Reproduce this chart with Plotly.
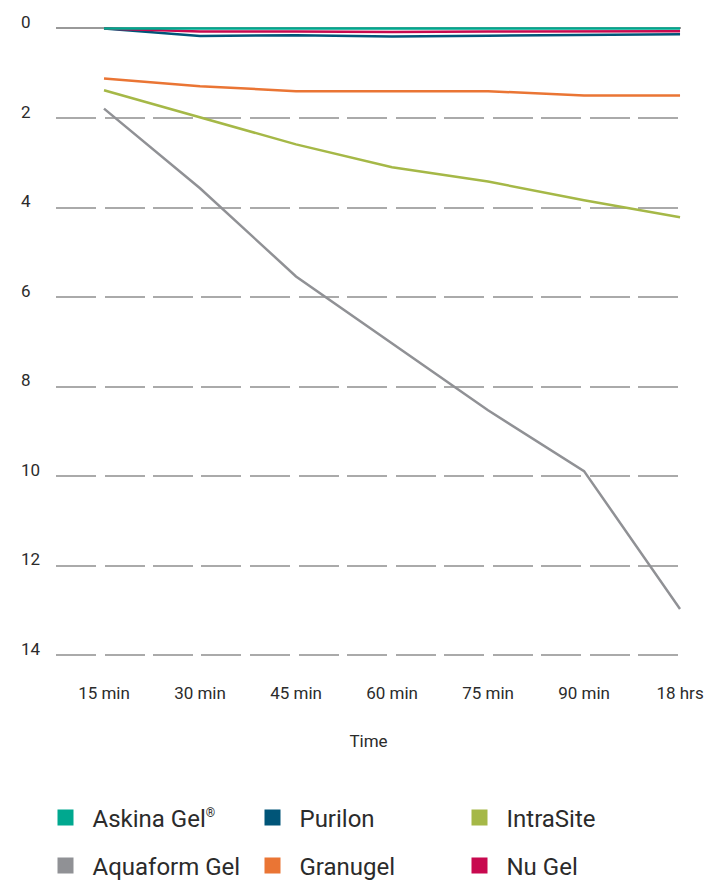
import plotly.graph_objects as go

times = ["15 min", "30 min", "45 min", "60 min", "75 min", "90 min", "18 hrs"]

askina_gel = [0, 0, 0, 0, 0, 0, 0]
purilon = [0, 0.17, 0.15, 0.18, 0.16, 0.14, 0.13]
intrasite = [1.38, 1.99, 2.59, 3.10, 3.42, 3.84, 4.22]
aquaform_gel = [1.79, 3.57, 5.54, 7.03, 8.53, 9.89, 12.97]
granugel = [1.12, 1.29, 1.40, 1.40, 1.40, 1.50, 1.50]
nu_gel = [0, 0.07, 0.07, 0.08, 0.07, 0.07, 0.06]

y_ticks = [0, 2, 4, 6, 8, 10, 12, 14]
y_ticktext = ["0\u2007", "2\u2007", "4\u2007", "6\u2007", "8\u2007", "10", "12", "14"]

names = ["Askina Gel<sup><span style='font-size:12px'>®</span></sup>", "Purilon", "IntraSite",
         "Aquaform Gel", "Granugel", "Nu Gel"]
colors = ["#00a88f", "#005578", "#a5b847", "#909195", "#ea7534", "#c8094f"]
series = [askina_gel, purilon, intrasite, aquaform_gel, granugel, nu_gel]

FONT = "Roboto, Lato, sans-serif"
TXT = "#2b2b2b"

# page body adds an 8px offset; figure is sized so content lands on the 724x880 frame
OFF = 8
W, H = 724 - OFF, 880 - OFF

fig = go.Figure()

# draw order: bottom to top
draw_order = [3, 2, 4, 1, 5, 0]
for i in draw_order:
    fig.add_trace(go.Scatter(
        x=times, y=series[i], mode="lines", name=names[i],
        line=dict(color=colors[i], width=2.5), showlegend=False,
        hoverinfo="skip"))

# legend entries (squares)
for i in range(6):
    fig.add_trace(go.Scatter(
        x=[None], y=[None], mode="markers", name=names[i],
        marker=dict(symbol="square", size=19, color=colors[i]),
        showlegend=True, legend="legend" if i < 3 else "legend2"))

leg_common = dict(
    orientation="h", xanchor="left", yanchor="middle",
    xref="container", yref="container",
    itemwidth=44,
    entrywidth=148, entrywidthmode="pixels",
    font=dict(family=FONT, size=24, color=TXT),
    bgcolor="rgba(0,0,0,0)", borderwidth=0, itemclick=False,
)

fig.update_layout(
    width=W, height=H,
    margin=dict(l=56 - OFF, r=43, t=24 - OFF, b=216, autoexpand=False),
    plot_bgcolor="white", paper_bgcolor="white",
    font=dict(family=FONT, size=17, color=TXT),
    legend=dict(x=(38.5 - OFF) / W, y=1 - (818 - OFF) / H, **leg_common),
    legend2=dict(x=(38.5 - OFF) / W, y=1 - (866 - OFF) / H, **leg_common),
    xaxis=dict(
        type="category", range=[-0.5, 6.01], automargin=False,
        showgrid=False, zeroline=False, showline=False, ticks="",
        ticklabelstandoff=17,
        tickfont=dict(family=FONT, size=17, color=TXT),
        title=dict(text="Time", standoff=33,
                   font=dict(family=FONT, size=17, color=TXT)),
    ),
    yaxis=dict(
        range=[14.2, -0.1], tickvals=y_ticks, ticktext=y_ticktext,
        automargin=False,
        showgrid=True, gridcolor="#aaaaaa", gridwidth=1.5,
        griddash="40px,8.5px",
        zeroline=True, zerolinecolor="#999999", zerolinewidth=1.5,
        showline=False, ticks="", ticklabelstandoff=15, ticklabelshift=6,
        tickfont=dict(family=FONT, size=17, color=TXT),
    ),
)

fig.write_html("out.html")
